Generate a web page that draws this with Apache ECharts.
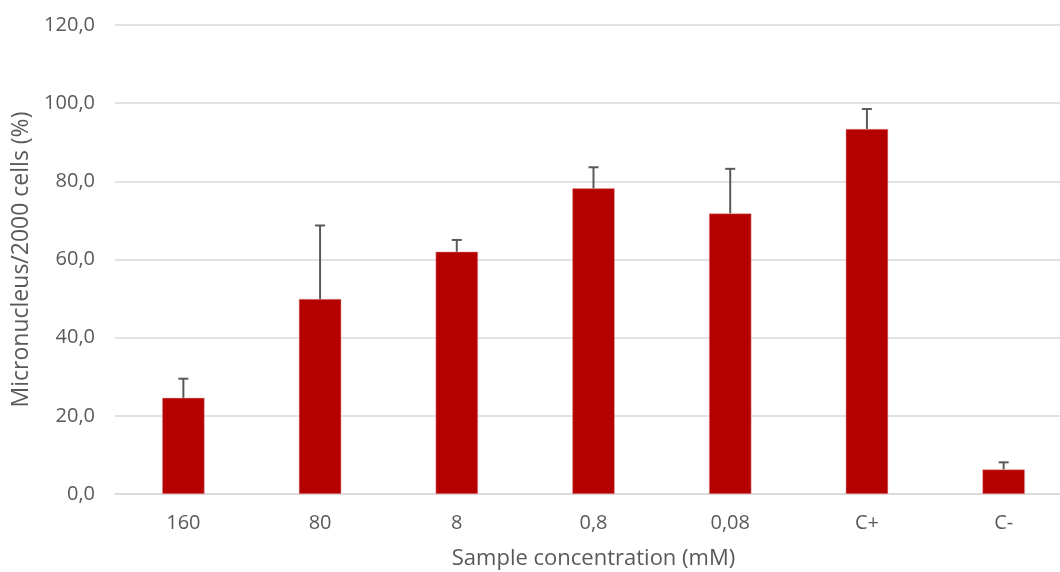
<!DOCTYPE html>
<html>
<head>
<meta charset="utf-8">
<script src="https://cdn.jsdelivr.net/npm/echarts@6/dist/echarts.min.js"></script>
<style>html,body{margin:0;padding:0;background:#fff}#c{width:1060px;height:572px}</style>
</head>
<body>
<div id="c"></div>
<script>
var categories = ['160', '80', '8', '0,8', '0,08', 'C+', 'C-'];
var values = [24.6, 49.9, 62.0, 78.2, 71.8, 93.4, 6.3];
var errors = [4.9, 18.8, 3.0, 5.4, 11.4, 5.1, 1.8];
var yTicks = [0, 20, 40, 60, 80, 100, 120];

var FONT = 'Open Sans';
var TXT = '#595959';
var chart = echarts.init(document.getElementById('c'));
chart.setOption({
  animation: false,
  grid: { left: 115, top: 25, width: 957, height: 469, containLabel: false, outerBoundsMode: 'none' },
  xAxis: {
    type: 'category',
    data: categories,
    axisLine: { show: true, lineStyle: { color: '#d9d9d9', width: 1.5 } },
    axisTick: { show: false },
    axisLabel: { color: TXT, fontFamily: FONT, fontSize: 20, margin: 19 },
    name: 'Sample concentration (mM)',
    nameLocation: 'middle',
    nameGap: 54,
    nameTextStyle: { color: TXT, fontFamily: FONT, fontSize: 22 }
  },
  yAxis: {
    type: 'value',
    min: yTicks[0],
    max: yTicks[yTicks.length - 1],
    interval: 20,
    axisLine: { show: false },
    axisTick: { show: false },
    splitLine: { lineStyle: { color: '#d9d9d9', width: 1.5 } },
    axisLabel: {
      color: TXT, fontFamily: FONT, fontSize: 20, margin: 20,
      formatter: function (v) { return v.toFixed(1).replace('.', ','); }
    },
    name: 'Micronucleus/2000 cells (%)',
    nameLocation: 'middle',
    nameGap: 80,
    nameTextStyle: { color: TXT, fontFamily: FONT, fontSize: 23 }
  },
  series: [
    {
      type: 'bar',
      data: values,
      barWidth: '31%',
      itemStyle: { color: '#b50000', borderColor: '#e8a0a0', borderWidth: 0.5 },
      z: 2
    },
    {
      type: 'custom',
      z: 3,
      data: values.map(function (v, i) { return [i, v, v + errors[i]]; }),
      renderItem: function (params, api) {
        var x = api.value(0);
        var p0 = api.coord([x, api.value(1)]);
        var p1 = api.coord([x, api.value(2)]);
        var hw = 5;
        var st = { stroke: '#595959', lineWidth: 2 };
        return {
          type: 'group',
          children: [
            { type: 'line', shape: { x1: p0[0], y1: p0[1], x2: p1[0], y2: p1[1] }, style: st },
            { type: 'line', shape: { x1: p1[0] - hw, y1: p1[1], x2: p1[0] + hw, y2: p1[1] }, style: st }
          ]
        };
      }
    }
  ]
});
</script>
</body>
</html>
